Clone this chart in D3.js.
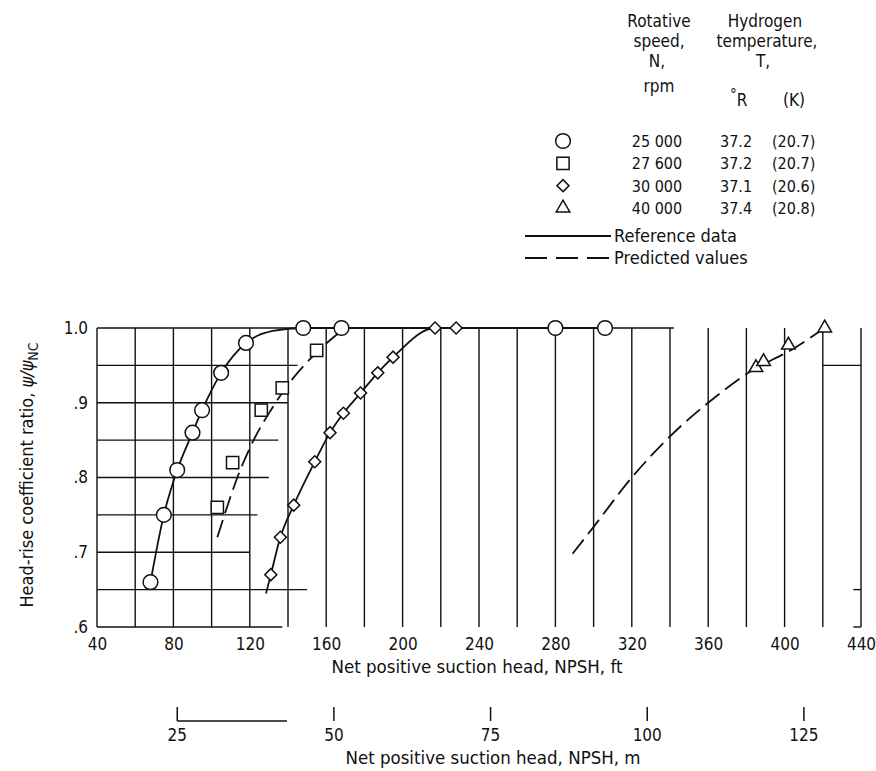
<!DOCTYPE html>
<html>
<head>
<meta charset="utf-8">
<script src="https://cdn.jsdelivr.net/npm/d3@7"></script>
<style>
  body { margin: 0; background: #fff; }
  svg text {
    font-family: "DejaVu Sans Condensed", "DejaVu Sans", sans-serif;
    font-stretch: condensed;
    fill: #111;
  }
</style>
</head>
<body>
<div id="chart"></div>
<script>
// ---- data ----
const ftTicks = [40, 80, 120, 160, 200, 240, 280, 320, 360, 400, 440];
const ratioTicks = [0.6, 0.7, 0.8, 0.9, 1.0];
const meterTicks = [25, 50, 75, 100, 125];
const FT_PER_M = 3.2808;

// measured points
const circleFt = [68, 75, 82, 90, 95, 105, 118, 148, 168, 280, 306];
const circleRatio = [0.66, 0.75, 0.81, 0.86, 0.89, 0.94, 0.98, 1.0, 1.0, 1.0, 1.0];
const squareFt = [103, 111, 126, 137, 155];
const squareRatio = [0.76, 0.82, 0.89, 0.92, 0.97];
const diamondFt = [131, 136, 143, 154, 162, 169, 178, 187, 195, 217, 228];
const diamondRatio = [0.67, 0.72, 0.763, 0.821, 0.86, 0.886, 0.913, 0.94, 0.961, 1.0, 1.0];
const triangleFt = [385, 389, 402, 421];
const triangleRatio = [0.947, 0.955, 0.977, 1.0];

// faired curves
const circleLineFt = [68, 75, 82, 90, 95, 105, 118, 132, 148, 306];
const circleLineRatio = [0.66, 0.75, 0.81, 0.86, 0.89, 0.94, 0.98, 0.996, 1.0, 1.0];
const diamondLineFt = [128.5, 131, 136, 143, 154, 162, 169, 178, 187, 195, 217, 228];
const diamondLineRatio = [0.645, 0.67, 0.72, 0.763, 0.821, 0.86, 0.886, 0.913, 0.94, 0.961, 1.0, 1.0];
// predicted values (dashed)
const squarePredFt = [103, 115, 122, 131, 143, 151, 159, 170];
const squarePredRatio = [0.72, 0.81, 0.85, 0.89, 0.934, 0.957, 0.977, 1.0];
const trianglePredFt = [289, 300, 320, 340, 360, 381, 405, 421];
const trianglePredRatio = [0.698, 0.734, 0.80, 0.855, 0.90, 0.94, 0.973, 1.0];

// grid: vertical lines every 20 ft, horizontal pieces [ratio, ftFrom, ftTo]
const gridFt = d3.range(40, 441, 20);
const gridRows = [
  [1.0, 40, 342], [0.95, 40, 145], [0.9, 40, 140], [0.85, 40, 135],
  [0.8, 40, 130], [0.75, 40, 124], [0.7, 40, 120], [0.65, 40, 150],
  [0.6, 40, 137], [0.95, 420, 440], [0.65, 436, 440], [0.6, 436, 440]
];
const meterBar = [25, 42.5];

// legend
const legendShapes = ["circle", "square", "diamond", "triangle"];
const legendSpeed = ["25 000", "27 600", "30 000", "40 000"];
const legendTempR = ["37.2", "37.2", "37.1", "37.4"];
const legendTempK = ["(20.7)", "(20.7)", "(20.6)", "(20.8)"];
const legendLines = ["Reference data", "Predicted values"];

// ---- layout ----
const W = 876, H = 771;
const margin = {left: 97, top: 328};
const plotW = 764, plotH = 299;

const svg = d3.select("#chart").append("svg")
    .attr("width", W)
    .attr("height", H);

const g = svg.append("g")
    .attr("transform", `translate(${margin.left}, ${margin.top})`);

const x = d3.scaleLinear().domain([40, 440]).range([0, plotW]);
const y = d3.scaleLinear().domain([0.6, 1.0]).range([plotH, 0]);
const xm = d3.scaleLinear().domain([40 / FT_PER_M, 440 / FT_PER_M]).range([0, plotW]);

// grid
g.selectAll(".vgrid")
    .data(gridFt)
    .enter()
    .append("line")
    .attr("x1", d => x(d)).attr("x2", d => x(d))
    .attr("y1", y(1.0)).attr("y2", y(0.6))
    .style("stroke", "#111")
    .style("stroke-width", 1.4);

g.selectAll(".hgrid")
    .data(gridRows)
    .enter()
    .append("line")
    .attr("x1", d => x(d[1])).attr("x2", d => x(d[2]))
    .attr("y1", d => y(d[0])).attr("y2", d => y(d[0]))
    .style("stroke", "#111")
    .style("stroke-width", 1.4);

// axes (labels only)
const xAxis = g.append("g")
    .attr("transform", `translate(0, ${plotH})`)
    .call(d3.axisBottom(x).tickValues(ftTicks).tickSize(0).tickPadding(11).tickFormat(d3.format("d")));
xAxis.select(".domain").remove();
xAxis.selectAll("text").style("font-size", "17px");

const yAxis = g.append("g")
    .call(d3.axisLeft(y).tickValues(ratioTicks).tickSize(0).tickPadding(9)
        .tickFormat(d => d === 1 ? "1.0" : "." + Math.round(d * 10)));
yAxis.select(".domain").remove();
yAxis.selectAll("text").style("font-size", "17px");

// lines
const toPts = (xs, ys) => xs.map((v, i) => [v, ys[i]]);
const line = d3.line()
    .x(d => x(d[0]))
    .y(d => y(d[1]))
    .curve(d3.curveMonotoneX);

const curves = [
  {pts: toPts(circleLineFt, circleLineRatio), dash: null},
  {pts: toPts(diamondLineFt, diamondLineRatio), dash: null},
  {pts: toPts(squarePredFt, squarePredRatio), dash: "18,7"},
  {pts: toPts(trianglePredFt, trianglePredRatio), dash: "18,7"}
];
g.selectAll(".curve")
    .data(curves)
    .enter()
    .append("path")
    .attr("d", d => line(d.pts))
    .style("fill", "none")
    .style("stroke", "#111")
    .style("stroke-width", 1.8)
    .style("stroke-dasharray", d => d.dash);

// markers
const symbolFor = {
  circle: d3.symbol().type(d3.symbolCircle).size(170),
  square: d3.symbol().type(d3.symbolSquare).size(150),
  diamond: d3.symbol().type(d3.symbolSquare).size(72),
  triangle: d3.symbol().type(d3.symbolTriangle).size(80)
};
const rot = s => s === "diamond" ? " rotate(45)" : "";

const series = [
  {shape: "circle", pts: toPts(circleFt, circleRatio)},
  {shape: "square", pts: toPts(squareFt, squareRatio)},
  {shape: "diamond", pts: toPts(diamondFt, diamondRatio)},
  {shape: "triangle", pts: toPts(triangleFt, triangleRatio)}
];
series.forEach(function (s) {
  g.selectAll(".m-" + s.shape)
      .data(s.pts)
      .enter()
      .append("path")
      .attr("d", symbolFor[s.shape]())
      .attr("transform", d => `translate(${x(d[0])}, ${y(d[1])})` + rot(s.shape))
      .style("fill", "#fff")
      .style("stroke", "#111")
      .style("stroke-width", 1.5);
});

// axis titles
svg.append("text")
    .attr("x", 477).attr("y", 673)
    .style("text-anchor", "middle")
    .style("font-size", "18.5px")
    .text("Net positive suction head, NPSH,  ft");

const yTitle = svg.append("text")
    .attr("transform", "translate(33, 475) rotate(-90)")
    .style("text-anchor", "middle")
    .style("font-size", "18px");
yTitle.append("tspan").text("Head-rise coefficient ratio,  ");
yTitle.append("tspan").style("font-style", "italic").text("\u03C8/\u03C8");
yTitle.append("tspan").attr("dy", 5).style("font-size", "14px").text("NC");

// metre scale underneath
const mAxis = svg.append("g").attr("transform", `translate(${margin.left}, 0)`);
mAxis.selectAll(".mtick")
    .data(meterTicks)
    .enter()
    .append("line")
    .attr("x1", d => xm(d)).attr("x2", d => xm(d))
    .attr("y1", 707).attr("y2", 721)
    .style("stroke", "#111")
    .style("stroke-width", 1.5);
mAxis.append("line")
    .attr("x1", xm(meterBar[0])).attr("x2", xm(meterBar[1]))
    .attr("y1", 721).attr("y2", 721)
    .style("stroke", "#111")
    .style("stroke-width", 1.5);
mAxis.selectAll(".mlabel")
    .data(meterTicks)
    .enter()
    .append("text")
    .attr("x", d => xm(d)).attr("y", 741)
    .style("text-anchor", "middle")
    .style("font-size", "17px")
    .text(d => d);

svg.append("text")
    .attr("x", 493).attr("y", 764)
    .style("text-anchor", "middle")
    .style("font-size", "18.5px")
    .text("Net positive suction head, NPSH,  m");

// legend header
const head = svg.append("g").style("font-size", "17px");
[["Rotative", 659, 27], ["speed,", 659, 47], ["N,", 657, 67], ["rpm", 659, 92],
 ["Hydrogen", 765, 27], ["temperature,", 767, 47], ["T,", 763, 67]].forEach(function (h) {
  head.append("text").attr("x", h[1]).attr("y", h[2])
      .style("text-anchor", "middle").text(h[0]);
});
const degR = head.append("text").attr("x", 730).attr("y", 106);
degR.append("tspan").attr("dy", -6).style("font-size", "15px").text("\u00B0");
degR.append("tspan").attr("dy", 6).text("R");
head.append("text").attr("x", 783).attr("y", 106).text("(K)");

// legend rows
const rowY = d3.scaleLinear().domain([0, 3]).range([141, 208]);
legendShapes.forEach(function (s, i) {
  svg.append("path")
      .attr("d", symbolFor[s]())
      .attr("transform", `translate(563, ${rowY(i)})` + rot(s))
      .style("fill", "#fff")
      .style("stroke", "#111")
      .style("stroke-width", 1.5);
  svg.append("text").attr("x", 657).attr("y", rowY(i) + 6)
      .style("text-anchor", "middle").style("font-size", "16px").text(legendSpeed[i]);
  svg.append("text").attr("x", 720).attr("y", rowY(i) + 6)
      .style("font-size", "16px").text(legendTempR[i]);
  svg.append("text").attr("x", 772).attr("y", rowY(i) + 6)
      .style("font-size", "16px").text(legendTempK[i]);
});

legendLines.forEach(function (t, i) {
  const ly = 236 + i * 22;
  svg.append("line")
      .attr("x1", 525).attr("x2", 611)
      .attr("y1", ly).attr("y2", ly)
      .style("stroke", "#111")
      .style("stroke-width", 1.8)
      .style("stroke-dasharray", i === 1 ? "22,9" : null);
  svg.append("text").attr("x", 614).attr("y", ly + 6)
      .style("font-size", "18px").text(t);
});
</script>
</body>
</html>
